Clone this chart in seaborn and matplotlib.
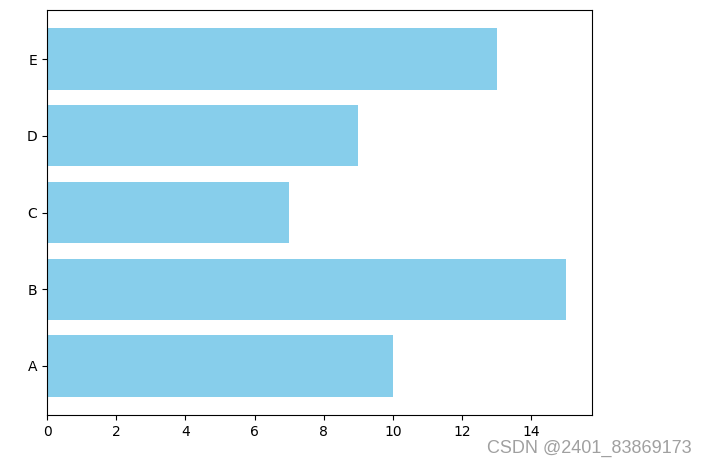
import matplotlib
matplotlib.use("Agg")
import matplotlib.pyplot as plt
import seaborn as sns

categories = ['A', 'B', 'C', 'D', 'E']
values = [10, 15, 7, 9, 13]

fig = plt.figure(figsize=(7.07, 4.67), dpi=100)
ax = fig.add_axes([47 / 707, 1 - 415 / 467, (592 - 47) / 707, (415 - 10) / 467])

sns.barplot(x=values, y=categories, order=categories, orient='h',
            color='skyblue', saturation=1, width=0.8, ax=ax)

ax.set_ylim(-0.64, 4.64)
ax.set_xlim(0, 15.75)
ax.set_xlabel('')
ax.set_ylabel('')
for s in ax.spines.values():
    s.set_visible(True)
    s.set_color('black')

fig.text(692 / 707, 1 - 448 / 467, 'CSDN @2401_83869173', ha='right', va='center',
         fontsize=13, color='#a0a0a0', family='Liberation Sans')

fig.savefig('out.png', dpi=100)
